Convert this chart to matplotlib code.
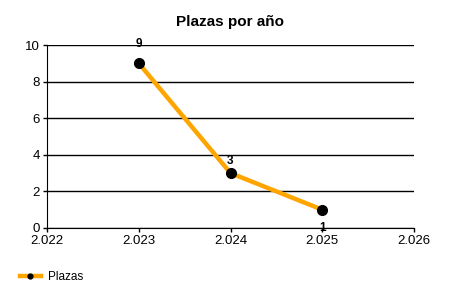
import matplotlib
matplotlib.use("Agg")
import matplotlib.pyplot as plt

years = [2.023, 2.024, 2.025]
plazas = [9, 3, 1]
label_offsets = [14, 9, -13.5]
xticks = [2.022, 2.023, 2.024, 2.025, 2.026]
xticklabels = ["2.022", "2.023", "2.024", "2.025", "2.026"]
yticks = [0, 2, 4, 6, 8, 10]

plt.rcParams['font.family'] = ['Liberation Sans', 'DejaVu Sans']
fig = plt.figure(figsize=(4.5, 3), dpi=100)
ax = fig.add_axes([47/450, 1-228/300, (414-47)/450, (228-45)/300])

ax.plot(years, plazas, color='#FFA500', lw=3.2, marker='o', markersize=7,
        markerfacecolor='black', markeredgecolor='black', label='Plazas', zorder=3)
for x, y, off in zip(years, plazas, label_offsets):
    ax.annotate(str(y), (x, y), xytext=(0, off), textcoords='offset points',
                ha='center', va='center', fontsize=8.5, fontweight='bold', zorder=4)

ax.set_xlim(2.022, 2.026)
ax.set_ylim(0, 10)
ax.set_xticks(xticks)
ax.set_xticklabels(xticklabels)
ax.set_yticks(yticks)
ax.yaxis.grid(True, color='black', lw=1)
ax.set_axisbelow(True)
ax.spines['top'].set_visible(False)
ax.spines['right'].set_visible(False)
ax.tick_params(labelsize=9.5, length=3, width=1, pad=2)
ax.set_title('Plazas por año', fontsize=11, fontweight='bold', pad=14)

handle = ax.get_legend_handles_labels()
fig.legend(*handle, loc='lower left', bbox_to_anchor=(0.02, 0.02), frameon=False,
           fontsize=8.5, handlelength=1.8, markerscale=0.5, handletextpad=0.6)

fig.savefig('out.png', dpi=100)
